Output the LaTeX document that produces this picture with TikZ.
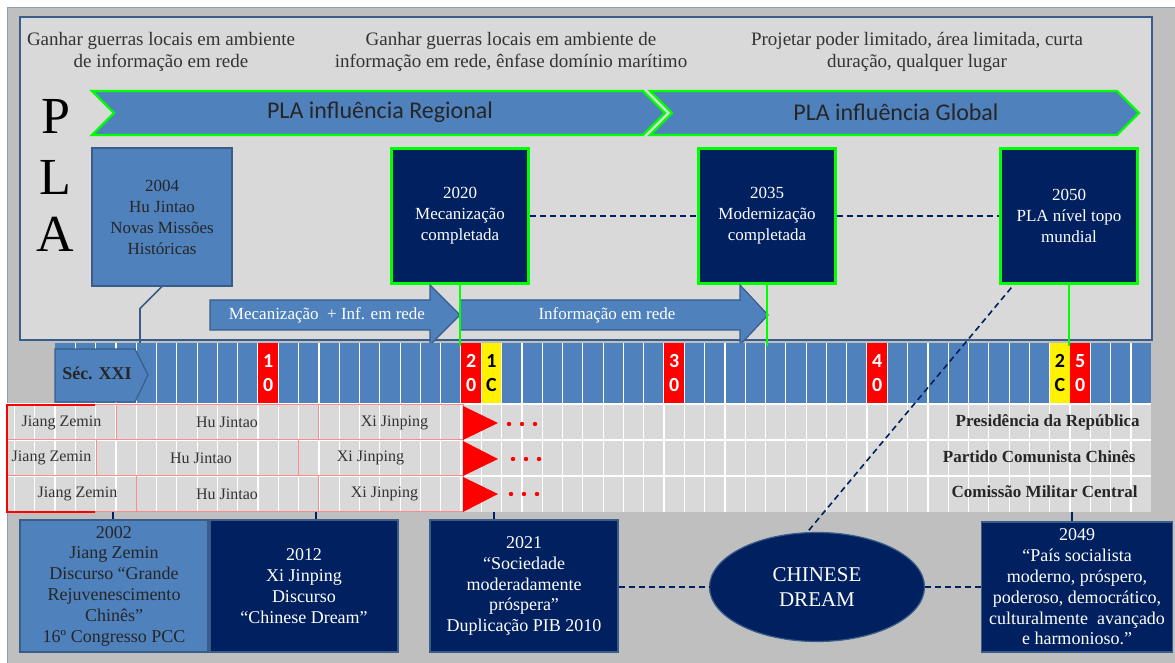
\documentclass[tikz,border=0pt]{standalone}
\usepackage{fontspec}
\setmainfont{Liberation Serif}
\newfontfamily\calibri{Carlito}
\usepackage{xcolor}
\usepackage{tikz}
\usetikzlibrary{shapes,arrows,positioning}

\definecolor{outergray}{HTML}{BFBFBF}
\definecolor{panelgray}{HTML}{D9D9D9}
\definecolor{midblue}{HTML}{4F81BD}
\definecolor{edgeblue}{HTML}{385D8A}
\definecolor{pladark}{HTML}{002060}
\definecolor{glow}{HTML}{00FF00}

\tikzset{
    goaltext/.style={align=center, inner sep=0pt, text=black!80, font=\fontsize{9.5}{11}\selectfont},
    plaletter/.style={inner sep=0pt, font=\fontsize{26}{26}\selectfont},
    chevron/.style={draw=glow, line width=1.2pt, fill=midblue},
    chevtext/.style={inner sep=0pt, text=black!85, font=\calibri\fontsize{12}{14}\selectfont},
    bluebox/.style={draw=edgeblue, line width=0.6pt, fill=midblue, align=center, inner sep=0pt, text=black!85, font=\fontsize{8.5}{10.5}\selectfont},
    milestone/.style={draw=glow, line width=1.2pt, fill=pladark, align=center, inner sep=0pt, text=white, minimum width=68.5pt, minimum height=67.5pt, font=\fontsize{8.5}{10.5}\selectfont},
    dashline/.style={draw=pladark, line width=0.8pt, dash pattern=on 3pt off 2pt},
    phasearrow/.style={draw=edgeblue, line width=0.6pt, fill=midblue},
    arrowtext/.style={inner sep=0pt, text=white, font=\fontsize{8.5}{10}\selectfont},
    callout/.style={draw=edgeblue, line width=0.8pt},
    greenline/.style={draw=glow, line width=1pt},
    redcell/.style={fill=red, text=white, align=center, inner sep=0pt, minimum width=9.7pt, minimum height=30pt, font=\calibri\bfseries\fontsize{10}{12}\selectfont},
    yellowcell/.style={redcell, fill=yellow, text=black},
    namebox/.style={draw=red!45, line width=0.5pt},
    nametext/.style={inner sep=0pt, text=black!80, font=\fontsize{8}{9}\selectfont},
    bodylabel/.style={anchor=east, inner sep=0pt, text=black!85, font=\bfseries\fontsize{8.5}{10}\selectfont},
    lowbox/.style={bluebox, minimum width=94pt, minimum height=66pt, font=\fontsize{9}{10.4}\selectfont},
    lownavy/.style={lowbox, fill=pladark, text=white},
    dreamshape/.style={ellipse, draw=edgeblue, line width=0.6pt, fill=pladark, text=white, align=center, inner sep=0pt, minimum width=107.5pt, minimum height=54.5pt, font=\fontsize{10.5}{12.5}\selectfont}
}

\begin{document}
\begin{tikzpicture}[x=0.5pt,y=-0.5pt]
                \useasboundingbox (0,0) rectangle (1175,663);

                % background and PLA panel
                \fill[outergray] (7,7) rectangle (1175,663);
                \draw[edgeblue!60] (1175,7) -- (7,7) -- (7,663);
                \draw[
                    line width=0.8pt,
                    draw=edgeblue,
                    fill=panelgray
                ] (20,17) rectangle (1152,340);

                \node[goaltext] (goal1) at (161,52) {Ganhar guerras locais em ambiente\\de informação em rede};
                \node[goaltext] (goal2) at (511,52) {Ganhar guerras locais em ambiente de\\informação em rede, ênfase domínio marítimo};
                \node[goaltext] (goal3) at (917,52) {Projetar poder limitado, área limitada, curta\\duração, qualquer lugar};

                \node[plaletter] (pla1) at (56,116) {P};
                \node[plaletter] (pla2) at (55,177) {L};
                \node[plaletter] (pla3) at (55,234) {A};

                % influence chevrons
                \draw[chevron] (92,91) -- (643,91) -- (665,113) -- (643,135) -- (92,135) -- (114,113) -- cycle;
                \draw[chevron] (650,91) -- (1117,91) -- (1139,113) -- (1117,135) -- (650,135) -- (672,113) -- cycle;
                \node[chevtext] (regional) at (380,112) {PLA influência Regional};
                \node[chevtext] (global) at (896,112) {PLA influência Global};

                % milestones
                \node[bluebox, minimum width=70pt, minimum height=69pt] (b2004) at (162,217) {2004\\Hu Jintao\\Novas Missões\\Históricas};
                \node[milestone] (b2020) at (460,216) {2020\\Mecanização\\completada};
                \node[milestone] (b2035) at (767,216) {2035\\Modernização\\completada};
                \node[milestone] (b2050) at (1069,216) {2050\\PLA nível topo\\mundial};
                \draw[dashline] (b2020) -- (b2035);
                \draw[dashline] (b2035) -- (b2050);

                % phases
                \draw[phasearrow] (210,300) -- (430,300) -- (430,285) -- (460,315) -- (430,345) -- (430,330) -- (210,330) -- cycle;
                \node[arrowtext] (phase1) at (327,315) {Mecanização\ \ + Inf. em rede};
                \draw[phasearrow] (460,300) -- (740,300) -- (740,285) -- (768,315) -- (740,345) -- (740,330) -- (460,330) -- cycle;
                \node[arrowtext] (phase2) at (607,315) {Informação em rede};
                \draw[callout] (b2004.south) -- ++(-22,22) -- (140,343);

                % timeline
                \fill[midblue] (55,343) rectangle (1151,403);
                \foreach \i in {1,...,53}
                    \draw[white, line width=0.6pt] ({55+20.3*\i},343) -- ({55+20.3*\i},403);
                \foreach \yr/\a/\b in {10/1/0,20/2/0,30/3/0,40/4/0,50/5/0}
                    \node[redcell] (c20\yr) at ({65.15+20.3*\yr},373) {\a\\\b};
                \foreach \yr/\a/\b in {21/1/C,49/2/C}
                    \node[yellowcell] (c20\yr) at ({65.15+20.3*\yr},373) {\a\\\b};
                \draw[
                    draw=edgeblue,
                    line width=0.6pt,
                    fill=midblue
                ] (55,349) -- (135,349) -- (148,375) -- (135,402) -- (55,402) -- cycle;
                \node[inner sep=0pt, text=black!85, font=\bfseries\fontsize{9}{10}\selectfont] (secxxi) at (97,373) {Séc. XXI};

                \coordinate (bandtop) at (0,346);
                \draw[greenline] (b2020.south) -- (b2020.south |- bandtop);
                \draw[greenline] (b2035.south) -- (b2035.south |- bandtop);
                \draw[greenline] (b2050.south) -- (b2050.south |- bandtop);

                % leadership table
                \fill[panelgray] (7,405) rectangle (1151,512);
                \foreach \i in {-2,...,53}
                    \draw[white, line width=0.6pt] ({55+20.3*\i},405) -- ({55+20.3*\i},512);
                \draw[white, line width=1pt] (7,404) -- (1151,404);
                \draw[white, line width=1pt] (7,440.5) -- (1151,440.5);
                \draw[white, line width=1pt] (7,476) -- (1151,476);

                \draw[namebox] (7,405) rectangle (116,440) node[pos=.5, nametext] (jz1) {Jiang Zemin};
                \draw[namebox] (116,405) rectangle (318,440) node[pos=.5, nametext, xshift=5pt] (hj1) {Hu Jintao};
                \draw[namebox] (318,405) rectangle (463,440) node[pos=.5, nametext, xshift=2pt] (xj1) {Xi Jinping};
                \draw[namebox] (7,440) rectangle (96,476) node[pos=.5, nametext] (jz2) {Jiang Zemin};
                \draw[namebox] (96,440) rectangle (298,476) node[pos=.5, nametext, xshift=2pt] (hj2) {Hu Jintao};
                \draw[namebox] (298,440) rectangle (463,476) node[pos=.5, nametext, xshift=-5pt] (xj2) {Xi Jinping};
                \draw[namebox] (7,476) rectangle (136,512) node[pos=.5, nametext, xshift=3pt] (jz3) {Jiang Zemin};
                \draw[namebox] (136,476) rectangle (318,512) node[pos=.5, nametext] (hj3) {Hu Jintao};
                \draw[namebox] (318,476) rectangle (463,512) node[pos=.5, nametext, xshift=-3pt] (xj3) {Xi Jinping};
                \draw[red, line width=1.2pt] (95,405) -- (7,405) -- (7,512) -- (95,512);

                \fill[red] (463,406) -- (498,423) -- (463,440) -- cycle;
                \fill[red] (463,441) -- (498,459) -- (463,476) -- cycle;
                \fill[red] (463,477) -- (498,494) -- (463,512) -- cycle;
                \foreach \y/\s in {424/0,459/4,494/2}
                    \foreach \x in {509,522,535}
                        \fill[red] ({\x+\s},\y) circle (1.1pt);

                \node[bodylabel] (presid) at (1140,422) {Presidência da República};
                \node[bodylabel] (partido) at (1136,457) {Partido Comunista Chinês};
                \node[bodylabel] (cmc) at (1138,492) {Comissão Militar Central};

                % national goals
                \node[lowbox] (b2002) at (114,586) {2002\\Jiang Zemin\\Discurso “Grande\\Rejuvenescimento\\Chinês”\\16º Congresso PCC};
                \node[lownavy] (b2012) at (304,586) {2012\\Xi Jinping\\Discurso\\“Chinese Dream”};
                \node[lownavy] (b2021) at (524,586) {2021\\“Sociedade\\moderadamente\\próspera”\\Duplicação PIB 2010};
                \node[lownavy, minimum width=95.5pt, minimum height=65pt] (b2049) at (1077,587) {2049\\“País socialista\\moderno, próspero,\\poderoso, democrático,\\culturalmente\ \ avançado\\e harmonioso.”};
                \node[dreamshape] (dream) at (817,587) {CHINESE\\DREAM};

                \coordinate (y2002) at (113,512);
                \coordinate (y2012) at (316,512);
                \coordinate (y2021) at (494,512);
                \coordinate (y2049) at (1072,512);
                \draw[callout, draw=pladark] (y2002) -- (y2002 |- b2002.north);
                \draw[callout, draw=pladark] (y2012) -- (y2012 |- b2012.north);
                \draw[callout, draw=pladark] (y2021) -- (y2021 |- b2021.north);
                \draw[callout, draw=pladark] (y2049) -- (y2049 |- b2049.north);

                \draw[dashline] (b2021.east |- dream.west) -- (dream.west);
                \draw[dashline] (dream.east) -- (dream.east -| b2049.west);
                \draw[dashline] ([xshift=6pt,yshift=-1.5pt]b2050.south west) -- (dream.100);
\end{tikzpicture}
\end{document}
